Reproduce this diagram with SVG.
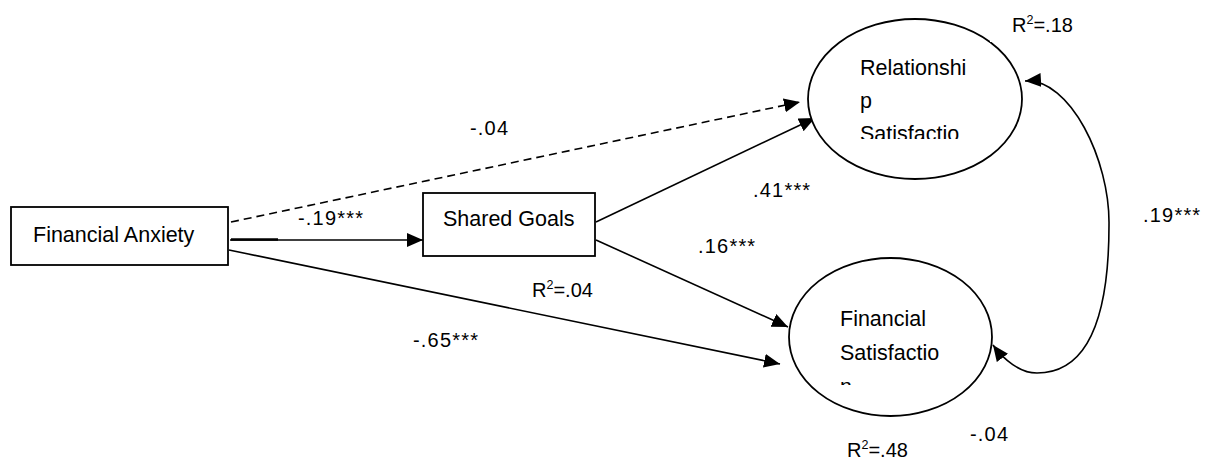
<svg xmlns="http://www.w3.org/2000/svg" width="1213" height="462" viewBox="0 0 1213 462">
<style>
.node{fill:#fff;stroke:#000;stroke-width:1.8}
.lbl{font-family:"Liberation Sans",Arial,sans-serif;font-size:21.5px;fill:#000}
.num{font-family:"Liberation Sans",Arial,sans-serif;font-size:20px;fill:#000}
.sp{letter-spacing:1.2px}
.edge{fill:none;stroke:#000;stroke-width:1.6}
.dash{stroke-dasharray:8 5}
</style>
<defs>
<marker id="arr" markerUnits="userSpaceOnUse" markerWidth="17" markerHeight="15" refX="16" refY="7" orient="auto-start-reverse" viewBox="0 0 17 15">
<path d="M0,0 L16,7 L0,14 z" fill="#000"/>
</marker>
<clipPath id="clipRS"><rect x="840" y="40" width="170" height="99"/></clipPath>
<clipPath id="clipFS"><rect x="820" y="290" width="170" height="95"/></clipPath>
</defs>
<rect width="1213" height="462" fill="#fff"/>

<g id="connectors">
<line class="edge dash" x1="231" y1="222" x2="800" y2="102" marker-end="url(#arr)"/>
<line class="edge" x1="230" y1="240" x2="423" y2="240" marker-end="url(#arr)"/>
<line x1="231" y1="239.5" x2="278" y2="239.5" stroke="#000" stroke-width="2.6"/>
<line class="edge" x1="596" y1="222" x2="815" y2="118" marker-end="url(#arr)"/>
<line class="edge" x1="596" y1="240" x2="788" y2="327" marker-end="url(#arr)"/>
<line class="edge" x1="229" y1="250" x2="780" y2="364" marker-end="url(#arr)"/>
<path class="edge" d="M1025,81 C1070,78 1110,160 1109,225 C1109,300 1095,373 1037,373 C1020,373 1004,360 993,345" marker-start="url(#arr)" marker-end="url(#arr)"/>
</g>

<g id="node-financial-anxiety">
<rect class="node" x="11" y="207" width="217" height="58"/>
<text class="lbl" x="33" y="242">Financial Anxiety</text>
</g>

<g id="node-shared-goals">
<rect class="node" x="423" y="193" width="172" height="63"/>
<text class="lbl" x="443" y="226">Shared Goals</text>
</g>

<g id="node-relationship-satisfaction">
<ellipse class="node" cx="915" cy="99" rx="107" ry="80"/>
<g clip-path="url(#clipRS)">
<text class="lbl" x="860" y="75">Relationshi</text>
<text class="lbl" x="860" y="108">p</text>
<text class="lbl" x="860" y="141">Satisfactio</text>
</g>
</g>

<g id="node-financial-satisfaction">
<ellipse class="node" cx="890.5" cy="337" rx="101.5" ry="79"/>
<g clip-path="url(#clipFS)">
<text class="lbl" x="840" y="326">Financial</text>
<text class="lbl" x="840" y="360">Satisfactio</text>
<text class="lbl" x="840" y="394">n</text>
</g>
</g>

<g id="labels">
<rect x="990" y="0" width="110" height="42" fill="#fff"/>
<text class="num" x="1012" y="32">R<tspan font-size="12.5" dy="-8">2</tspan><tspan dy="8">=.18</tspan></text>
<text class="num sp" x="470" y="135">-.04</text>
<text class="num sp" x="298" y="225">-.19***</text>
<text class="num sp" x="753" y="197">.41***</text>
<text class="num sp" x="698" y="253">.16***</text>
<text class="num" x="532" y="297">R<tspan font-size="12.5" dy="-8">2</tspan><tspan dy="8">=.04</tspan></text>
<text class="num sp" x="413" y="347">-.65***</text>
<text class="num sp" x="1143" y="222">.19***</text>
<text class="num" x="847" y="457">R<tspan font-size="12.5" dy="-8">2</tspan><tspan dy="8">=.48</tspan></text>
<text class="num sp" x="970" y="441">-.04</text>
</g>
</svg>
